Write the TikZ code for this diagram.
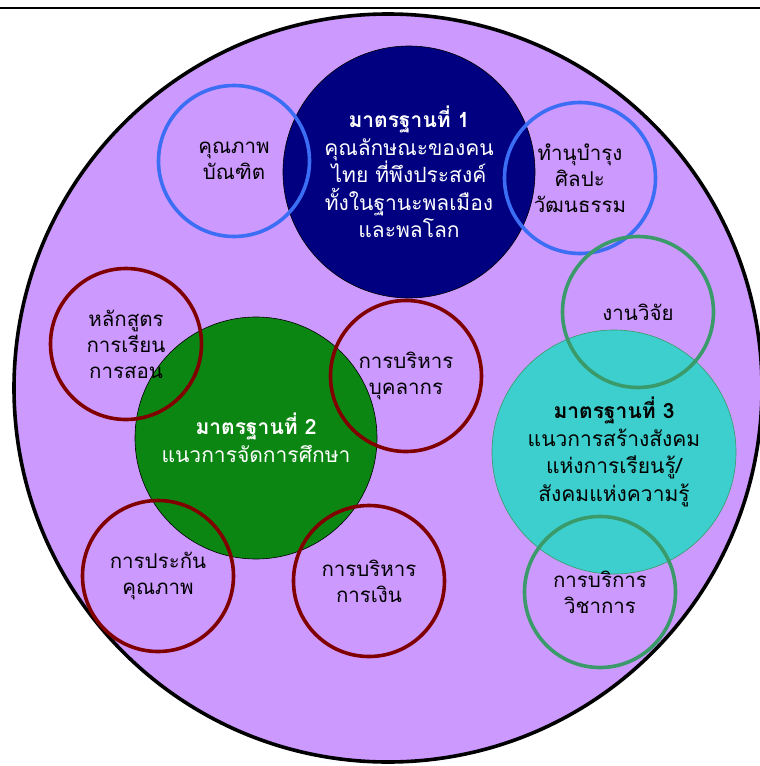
\documentclass[tikz,border=0pt]{standalone}
\usepackage{fontspec}
\setmainfont[Script=Thai]{Loma}
\usepackage{tikz}
\definecolor{lavenderfill}{HTML}{CC99FF}
\definecolor{stdnavy}{HTML}{000080}
\definecolor{stdgreen}{HTML}{0C8612}
\definecolor{stdteal}{HTML}{3DCFCD}
\definecolor{ringblue}{HTML}{3B6EF4}
\definecolor{ringred}{HTML}{800000}
\definecolor{ringgreen}{HTML}{3A9A6A}

\tikzset{
  stdcircle/.style={circle, draw=black, line width=0.6pt, inner sep=0pt,
    align=center, font=\fontsize{21}{27.5}\selectfont},
  subcircle/.style={circle, line width=3.6pt, inner sep=0pt, minimum size=151pt,
    align=center, font=\fontsize{20.5}{26}\selectfont},
}

\begin{document}
\begin{tikzpicture}[x=1pt, y=-1pt]
    \useasboundingbox (0,0) rectangle (760,766);

    % Top rule
    \draw[line width=2pt] (0,8) -- (760,8);

    % Outer circle
    \node[circle, draw=black, fill=lavenderfill, line width=3.6pt, minimum size=748pt] (outer) at (388,388) {};

    % Standards
    \node[stdcircle, fill=stdnavy, text=white, minimum size=252pt] (std1) at (409,172)
        {\bfseries มาตรฐานที่ 1\\คุณลักษณะของคน\\ไทย ที่พึงประสงค์\\ทั้งในฐานะพลเมือง\\และพลโลก};
    \node[stdcircle, fill=stdgreen, text=white, minimum size=242pt] (std2) at (256,438)
        {\bfseries มาตรฐานที่ 2\\แนวการจัดการศึกษา};
    \node[stdcircle, draw=ringgreen, fill=stdteal, text=black, minimum size=244pt] (std3) at (614,452)
        {\bfseries มาตรฐานที่ 3\\แนวการสร้างสังคม\\แห่งการเรียนรู้/\\สังคมแห่งความรู้};

    % Rings of standard 1
    \node[subcircle, draw=ringblue] (graduate) at (234,161) {คุณภาพ\\บัณฑิต};
    \node[subcircle, draw=ringblue] (culture) at (580,178) {ทำนุบำรุง\\ศิลปะ\\วัฒนธรรม};

    % Rings of standard 3
    \node[subcircle, draw=ringgreen] (research) at (638,312) {งานวิจัย};
    \node[subcircle, draw=ringgreen] (service) at (600,592) {การบริการ\\วิชาการ};

    % Rings of standard 2
    \node[subcircle, draw=ringred] (curriculum) at (126,344) {หลักสูตร\\การเรียน\\การสอน};
    \node[subcircle, draw=ringred] (personnel) at (406,376) {การบริหาร\\บุคลากร};
    \node[subcircle, draw=ringred] (quality) at (158,576) {การประกัน\\คุณภาพ};
    \node[subcircle, draw=ringred] (finance) at (369,581) {การบริหาร\\การเงิน};
\end{tikzpicture}
\end{document}
